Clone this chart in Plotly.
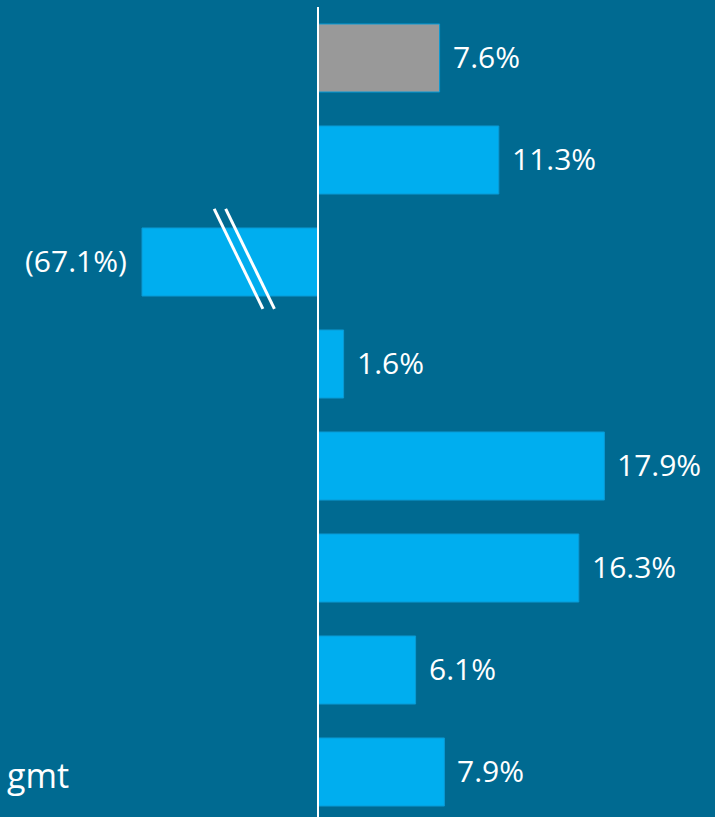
import plotly.graph_objects as go

# ---- data ----
rows = ["r1", "r2", "r3", "r4", "r5", "r6", "r7", "r8"]
row_labels = ["", "", "", "", "", "", "", "gmt"]
values = [7.6, 11.3, -67.1, 1.6, 17.9, 16.3, 6.1, 7.9]
value_labels = ["7.6%", "11.3%", "(67.1%)", "1.6%", "17.9%", "16.3%", "6.1%", "7.9%"]
bar_colors = ["#999999"] + ["#00AEEF"] * 7
axis_clip = -11.0  # bars below this are drawn truncated (axis break)

W, H = 715, 817
BG = "#006A91"
FONT = "Open Sans"
FS = 30

drawn = [max(v, axis_clip) for v in values]
idx = list(range(len(rows)))

fig = go.Figure()
fig.add_trace(go.Bar(
    x=drawn, y=idx, orientation="h",
    marker=dict(color=bar_colors, line=dict(color="#0A9AD4", width=1)),
    width=0.667, hoverinfo="skip",
))

ann = []
for i, (v, d, t) in enumerate(zip(values, drawn, value_labels)):
    if v >= 0:
        ann.append(dict(x=d, y=i, xref="x", yref="y", text=t, showarrow=False,
                        xanchor="left", xshift=11, yshift=2,
                        font=dict(color="white", size=FS, family=FONT)))
    else:
        ann.append(dict(x=d, y=i, xref="x", yref="y", text=t, showarrow=False,
                        xanchor="right", xshift=-13, yshift=2,
                        font=dict(color="white", size=FS, family=FONT)))
for i, lab in enumerate(row_labels):
    if lab:
        ann.append(dict(x=71 / W, y=i, xref="paper", yref="y", text=lab, showarrow=False,
                        xanchor="right", yshift=-3,
                        font=dict(color="white", size=34, family=FONT)))

shapes = [dict(type="line", xref="x", yref="y", x0=0, x1=0, y0=-0.5, y1=7.6,
               line=dict(color="white", width=2))]
# axis-break marks on truncated bars
for i, v in enumerate(values):
    if v < axis_clip:
        for off in (0.0, 0.72):
            shapes.append(dict(type="line", xref="x", yref="y",
                               x0=axis_clip * 0.59 + off, y0=i - 0.52,
                               x1=axis_clip * 0.313 + off, y1=i + 0.46,
                               line=dict(color="white", width=3)))

px_per = 16.0
zero_px = 318
fig.update_layout(
    width=W, height=H,
    margin=dict(l=0, r=0, t=0, b=0),
    paper_bgcolor=BG, plot_bgcolor=BG,
    showlegend=False,
    xaxis=dict(range=[-zero_px / px_per, (W - zero_px) / px_per], visible=False, fixedrange=True),
    yaxis=dict(range=[(H - 58) / 102, -58 / 102], visible=False, fixedrange=True),
    annotations=ann, shapes=shapes,
)
fig.write_html("out.html", config={"displayModeBar": False},
               post_script="document.body.style.margin='0';document.body.style.overflow='hidden';")
